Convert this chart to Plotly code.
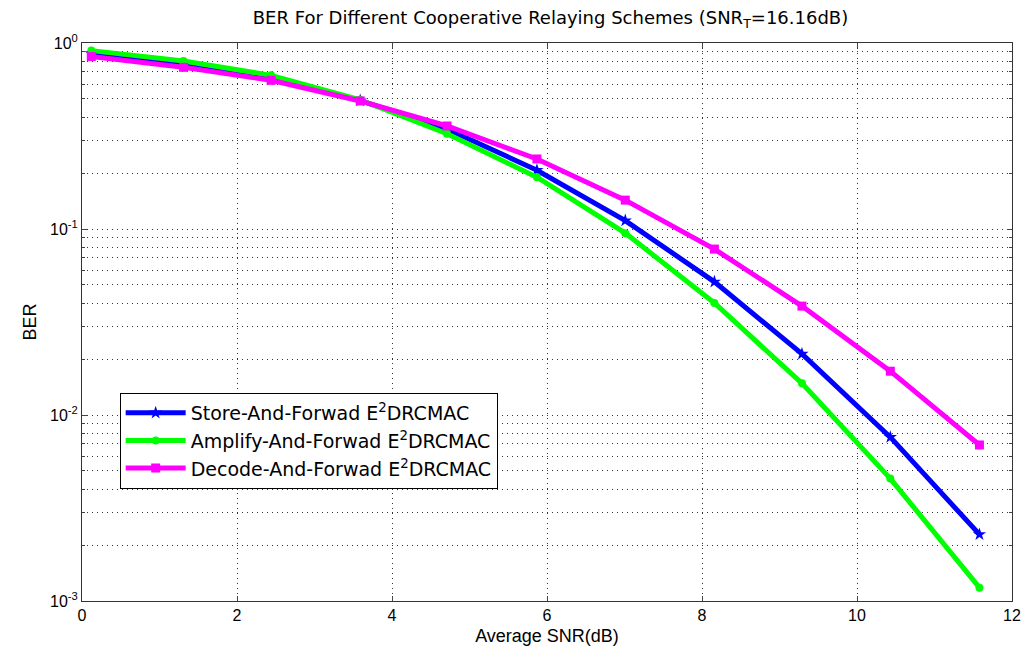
import plotly.graph_objects as go

snr = [0.12, 1.31, 2.44, 3.59, 4.71, 5.87, 7.01, 8.16, 9.29, 10.43, 11.58]
ber_store = [0.88, 0.77, 0.65, 0.49, 0.345, 0.207, 0.111, 0.052, 0.0213, 0.0076, 0.00228]
ber_amplify = [0.91, 0.80, 0.67, 0.495, 0.325, 0.19, 0.095, 0.040, 0.0148, 0.00455, 0.00118]
ber_decode = [0.845, 0.74, 0.63, 0.488, 0.358, 0.238, 0.143, 0.078, 0.0385, 0.0172, 0.0069]

names = ["Store-And-Forwad E<sup>2</sup>DRCMAC",
         "Amplify-And-Forwad E<sup>2</sup>DRCMAC",
         "Decode-And-Forwad E<sup>2</sup>DRCMAC"]
colors = ["#0000ff", "#00ff00", "#ff00ff"]
symbols = ["star", "circle", "square"]
msizes = [10, 8, 9]

xticks = [0, 2, 4, 6, 8, 10, 12]
yticks = [1, 0.1, 0.01, 0.001]
yticktext = ["10<sup>0</sup>", "10<sup>-1</sup>", "10<sup>-2</sup>", "10<sup>-3</sup>"]

fig = go.Figure()
for ys, nm, c, s, ms in zip([ber_store, ber_amplify, ber_decode], names, colors, symbols, msizes):
    fig.add_trace(go.Scatter(x=snr, y=ys, name=nm, mode="lines+markers",
                             line=dict(color=c, width=5),
                             marker=dict(symbol=s, size=ms, color=c)))

lib = "Liberation Sans, Arial, sans-serif"
dej = "DejaVu Sans, Verdana, sans-serif"
tickfont = dict(family=lib, size=16, color="#000")
dotdash = "1px,4px"
fig.update_layout(
    width=1033, height=655,
    margin=dict(l=82, r=14, t=43, b=47),
    paper_bgcolor="white", plot_bgcolor="white",
    font=dict(family=lib, size=15, color="#000"),
    title=dict(text="BER For Different Cooperative Relaying Schemes (SNR<sub>T</sub>=16.16dB)",
               x=(82 + 1019) / 2 / 1033, xanchor="center", y=1 - 18 / 655, yanchor="middle",
               font=dict(family=dej, size=18, color="#000")),
    showlegend=True,
    legend=dict(x=0.0405, y=0.373, xanchor="left", yanchor="top",
                bgcolor="white", bordercolor="#000", borderwidth=1,
                font=dict(family=dej, size=19, color="#000"),
                itemwidth=60, tracegroupgap=0),
)
fig.update_xaxes(range=[0, 12], tickvals=xticks, ticks="inside", ticklen=5,
                 showline=True, linecolor="#333", linewidth=1, mirror="allticks",
                 showgrid=True, gridcolor="#333", griddash=dotdash, gridwidth=1,
                 zeroline=False, title=dict(text="Average SNR(dB)", standoff=6),
                 tickfont=tickfont)
fig.update_yaxes(type="log", range=[-3, 0], tickvals=yticks, ticktext=yticktext,
                 ticks="inside", ticklen=5,
                 showline=True, linecolor="#333", linewidth=1, mirror="allticks",
                 showgrid=True, gridcolor="#333", griddash=dotdash, gridwidth=1,
                 minor=dict(dtick="D1", ticks="inside", ticklen=3, showgrid=True,
                            gridcolor="#333", griddash=dotdash, gridwidth=1),
                 zeroline=False, title=dict(text="BER", standoff=8),
                 tickfont=tickfont)

fig.write_html("out.html")
